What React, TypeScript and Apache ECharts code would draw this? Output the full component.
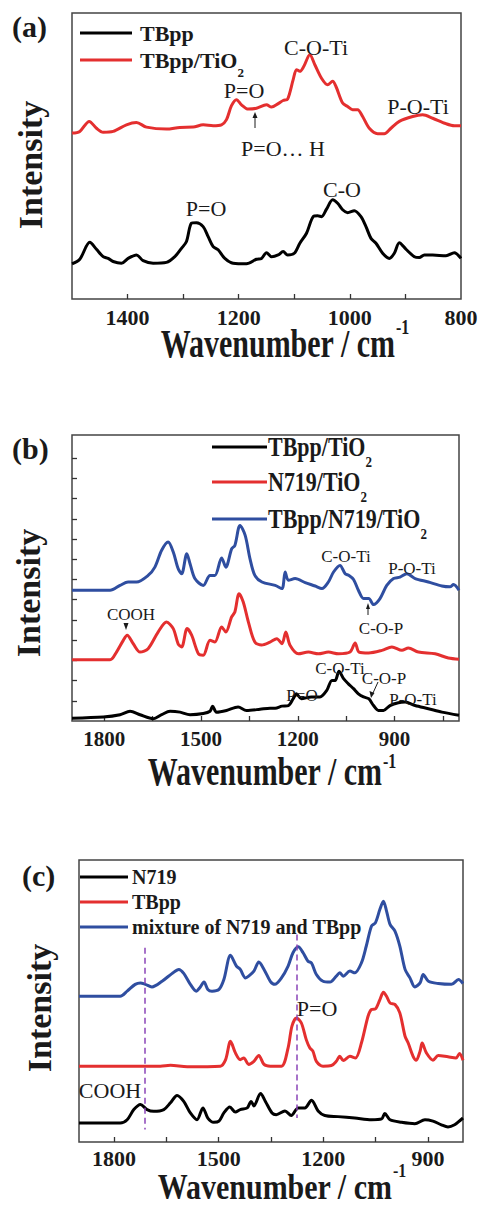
import React, { useEffect, useRef } from "react";
import * as echarts from "echarts";

const FONT = '"Liberation Serif", "Times New Roman", serif';
const RED = "#e42f2f";
const BLUE = "#2f4ea0";
const PURPLE = "#8b44b8";
const INK = "#1a1a1a";

// ---------- Panel (a): wavenumber (cm-1), intensity (a.u.) ----------
const aTBpp: [number, number][] = [
  [1500, 12.3], [1486, 13.9], [1468, 19.8], [1456, 17.4], [1444, 14.8], [1435, 14.2], [1426, 13.1], [1411, 12.5],
  [1399, 14.2], [1384, 15.4], [1372, 13.4], [1354, 12.5], [1330, 12.8], [1315, 14.8], [1303, 17.7], [1294, 20.1],
  [1285, 26.5], [1276, 26.7], [1264, 25.3], [1255, 21.8], [1246, 18.3], [1237, 17.2], [1225, 14.2], [1210, 12.5],
  [1186, 12.3], [1168, 13.9], [1159, 14.2], [1150, 16.2], [1141, 14.8], [1129, 15.4], [1120, 16.6], [1112, 15.4],
  [1100, 16.0], [1090, 19.5], [1078, 23.0], [1066, 28.8], [1058, 29.1], [1051, 28.8], [1042, 31.4], [1031, 34.7],
  [1022, 33.5], [1013, 31.2], [1004, 30.2], [992, 30.9], [980, 28.8], [971, 25.3], [962, 21.2], [953, 19.5],
  [941, 16.0], [929, 14.2], [920, 16.0], [911, 19.7], [899, 17.4], [884, 14.8], [875, 14.5], [866, 15.4],
  [851, 15.4], [827, 15.1], [812, 16.2], [800, 14.2],
];
const aTBppTiO2: [number, number][] = [
  [1500, 58.0], [1486, 58.6], [1469, 62.1], [1456, 59.7], [1444, 58.3], [1426, 58.6], [1402, 60.9], [1384, 61.7],
  [1366, 60.1], [1330, 59.4], [1306, 60.0], [1282, 60.1], [1264, 60.9], [1246, 60.6], [1231, 60.9], [1222, 62.7],
  [1213, 67.6], [1204, 69.7], [1195, 67.9], [1183, 66.4], [1168, 66.7], [1150, 67.9], [1141, 67.1], [1129, 68.3],
  [1120, 69.4], [1112, 69.9], [1102, 76.7], [1096, 80.2], [1090, 79.6], [1083, 81.3], [1072, 85.4], [1063, 81.9],
  [1051, 77.2], [1040, 74.9], [1031, 76.1], [1025, 74.3], [1013, 68.5], [1004, 67.3], [995, 66.2], [986, 66.2],
  [977, 63.8], [965, 59.7], [950, 57.8], [938, 57.8], [926, 59.7], [911, 62.1], [887, 63.8], [869, 64.4],
  [851, 63.2], [827, 61.3], [812, 60.6], [800, 60.6],
];
const aTicks = [900, 1000, 1100, 1200, 1300, 1400];
const aLabels = [800, 1000, 1200, 1400];

// ---------- Panel (b) ----------
const bTBppTiO2: [number, number][] = [
  [1900, 1.0], [1803, 1.4], [1751, 2.2], [1720, 3.4], [1689, 2.2], [1648, 0.8], [1622, 2.2], [1596, 3.4],
  [1565, 3.1], [1534, 2.2], [1493, 2.6], [1472, 3.4], [1464, 5.2], [1452, 3.1], [1421, 3.7], [1385, 4.9],
  [1359, 3.7], [1317, 4.1], [1286, 4.5], [1270, 4.5], [1249, 5.2], [1229, 5.4], [1214, 7.8], [1204, 9.5],
  [1189, 7.8], [1158, 8.4], [1131, 8.4], [1110, 10.7], [1094, 14.2], [1084, 14.2], [1072, 17.4], [1058, 14.8],
  [1043, 13.0], [1027, 11.3], [1012, 9.5], [996, 8.4], [980, 7.8], [965, 5.4], [950, 3.7], [934, 3.7],
  [914, 5.4], [888, 6.4], [867, 6.6], [836, 5.4], [795, 4.3], [753, 3.1], [700, 2.0],
];
const bN719TiO2: [number, number][] = [
  [1900, 21.4], [1782, 21.4], [1762, 24.1], [1741, 28.2], [1729, 30.0], [1710, 27.0], [1689, 24.1], [1664, 25.3],
  [1633, 31.1], [1607, 34.6], [1586, 32.3], [1571, 27.0], [1560, 25.9], [1543, 32.3], [1529, 30.0], [1508, 23.5],
  [1493, 23.0], [1472, 28.2], [1457, 27.6], [1436, 32.9], [1423, 31.1], [1405, 36.4], [1395, 38.1], [1382, 44.5],
  [1369, 41.6], [1353, 34.6], [1333, 27.6], [1312, 26.6], [1286, 27.6], [1265, 28.8], [1249, 27.0], [1237, 31.1],
  [1224, 26.5], [1198, 23.5], [1167, 24.1], [1136, 23.5], [1105, 24.1], [1074, 23.5], [1038, 24.1], [1022, 27.3],
  [1010, 24.1], [980, 23.8], [939, 24.7], [908, 25.9], [877, 24.7], [857, 25.5], [826, 24.1], [774, 23.5],
  [733, 22.0], [700, 21.6],
];
const bTBppN719TiO2: [number, number][] = [
  [1900, 45.7], [1782, 45.7], [1751, 47.4], [1726, 48.6], [1700, 48.6], [1664, 50.9], [1643, 53.8], [1622, 59.7],
  [1602, 62.6], [1586, 59.1], [1571, 53.3], [1560, 51.5], [1544, 58.5], [1534, 55.0], [1519, 49.8], [1493, 47.4],
  [1472, 50.9], [1457, 50.9], [1436, 57.0], [1423, 53.8], [1405, 60.2], [1395, 61.4], [1379, 68.4], [1363, 64.9],
  [1348, 56.7], [1333, 50.9], [1311, 48.6], [1270, 47.4], [1249, 46.3], [1239, 52.1], [1229, 49.2], [1208, 49.8],
  [1177, 48.4], [1146, 47.2], [1125, 46.3], [1105, 48.6], [1089, 52.1], [1069, 54.4], [1053, 51.5], [1041, 50.9],
  [1027, 49.5], [1012, 45.7], [996, 42.8], [980, 42.8], [965, 40.7], [945, 42.8], [924, 47.4], [903, 49.8],
  [883, 50.3], [862, 51.5], [836, 49.8], [795, 48.6], [753, 47.2], [728, 46.9], [717, 47.7], [700, 45.7],
];
const bTicks = [750, 900, 1050, 1200, 1350, 1500, 1650, 1800];
const bLabels = [900, 1200, 1500, 1800];
const bTicksY = [7.07, 14.14, 21.21, 28.28, 35.35, 42.42, 49.49, 56.56, 63.63, 70.7, 77.77, 84.84, 91.91];

// ---------- Panel (c) ----------
const cN719: [number, number][] = [
  [1900, 6.7], [1782, 6.7], [1762, 7.9], [1743, 11.5], [1724, 13.3], [1705, 11.5], [1686, 10.9], [1657, 11.5],
  [1638, 13.9], [1619, 16.5], [1600, 14.4], [1581, 10.3], [1562, 7.9], [1545, 12.1], [1531, 8.5], [1514, 7.0],
  [1499, 7.4], [1485, 10.3], [1468, 12.4], [1452, 10.6], [1438, 11.5], [1418, 12.1], [1407, 14.4], [1399, 12.8],
  [1380, 17.2], [1366, 14.4], [1347, 10.3], [1335, 9.7], [1310, 11.0], [1292, 9.4], [1272, 12.1], [1253, 12.1],
  [1234, 14.8], [1215, 11.0], [1196, 9.4], [1158, 9.0], [1110, 8.5], [1062, 7.9], [1033, 8.2], [1024, 10.1],
  [1009, 7.9], [976, 7.0], [938, 6.5], [909, 7.9], [886, 7.4], [862, 6.1], [843, 5.3], [824, 6.1],
  [806, 7.9], [800, 8.5],
];
const cTBpp: [number, number][] = [
  [1900, 26.9], [1667, 26.9], [1638, 27.2], [1590, 26.7], [1495, 26.9], [1480, 29.2], [1466, 35.7], [1452, 31.6],
  [1438, 29.2], [1428, 29.8], [1414, 27.5], [1399, 28.6], [1385, 30.7], [1370, 27.5], [1352, 26.9], [1320, 26.9],
  [1301, 33.4], [1290, 41.1], [1277, 44.0], [1263, 42.2], [1249, 36.3], [1239, 33.4], [1230, 32.2], [1220, 28.6],
  [1201, 26.9], [1177, 27.1], [1163, 28.6], [1153, 30.4], [1143, 28.9], [1124, 30.4], [1108, 29.8], [1091, 35.1],
  [1072, 44.6], [1062, 47.0], [1051, 47.2], [1038, 50.5], [1028, 53.1], [1019, 51.7], [1009, 49.3], [995, 48.8],
  [981, 45.8], [966, 37.5], [957, 35.1], [943, 30.4], [934, 29.0], [923, 32.2], [917, 35.1], [905, 31.6],
  [886, 29.0], [871, 30.7], [843, 30.2], [820, 29.8], [810, 31.4], [800, 29.0],
];
const cMixture: [number, number][] = [
  [1900, 51.7], [1782, 51.7], [1762, 53.5], [1739, 55.9], [1724, 56.4], [1710, 55.9], [1691, 55.0], [1662, 57.0],
  [1633, 59.8], [1614, 61.2], [1600, 59.8], [1581, 55.9], [1564, 53.5], [1554, 54.7], [1542, 56.7], [1531, 54.1],
  [1519, 53.5], [1499, 54.1], [1485, 57.6], [1466, 66.2], [1449, 62.4], [1438, 61.2], [1423, 58.2], [1414, 58.8],
  [1399, 60.6], [1385, 63.8], [1370, 61.2], [1352, 57.0], [1339, 55.9], [1320, 58.2], [1301, 62.4], [1287, 67.1],
  [1272, 69.2], [1258, 67.1], [1244, 64.1], [1234, 63.5], [1220, 59.4], [1201, 57.0], [1181, 56.7], [1163, 58.8],
  [1153, 60.0], [1143, 58.8], [1124, 60.6], [1110, 60.0], [1091, 63.5], [1077, 69.5], [1062, 76.6], [1051, 77.7],
  [1038, 82.5], [1028, 85.4], [1019, 81.9], [1009, 77.2], [995, 74.8], [981, 69.5], [966, 61.2], [952, 58.2],
  [938, 55.0], [923, 56.4], [914, 59.4], [899, 57.0], [871, 56.2], [833, 55.9], [813, 57.6], [800, 56.2],
];
const cTicks = [900, 1050, 1200, 1350, 1500, 1650, 1800];
const cLabels = [900, 1200, 1500, 1800];
const cDashX = [1712, 1277];
const cDashTop = [68.9, 73.6];
const cDashBottom = [4.4, 8.5];

let measureCtx: CanvasRenderingContext2D | null = null;
function measure(text: string, size: number, bold: boolean) {
  if (!measureCtx) measureCtx = document.createElement("canvas").getContext("2d");
  if (!measureCtx) return text.length * size * 0.5;
  measureCtx.font = `${bold ? "bold " : ""}${size}px ${FONT}`;
  return measureCtx.measureText(text).width;
}

function xAxisFor(gridIndex: number, min: number, max: number, ticks: number[], labels: number[], fontSize: number, margin: number) {
  return {
    type: "value",
    gridIndex,
    min,
    max,
    inverse: true,
    axisLine: { show: false },
    splitLine: { show: false },
    axisTick: { show: true, inside: true, length: 5, customValues: ticks, lineStyle: { color: "#333", width: 1.3 } },
    axisLabel: {
      show: true,
      customValues: labels,
      margin,
      fontFamily: FONT,
      fontWeight: "bold",
      fontSize,
      color: INK,
      formatter: (v: number) => String(v),
    },
  };
}

function yAxisFor(gridIndex: number, ticks: number[] | null) {
  return {
    type: "value",
    gridIndex,
    min: 0,
    max: 100,
    axisLine: { show: false },
    splitLine: { show: false },
    axisLabel: { show: false },
    axisTick: ticks
      ? { show: true, inside: true, length: 5, customValues: ticks, lineStyle: { color: "#333", width: 1.3 } }
      : { show: false },
  };
}

function lineSeries(name: string, data: [number, number][], color: string, idx: number, extra: any = {}) {
  return {
    name,
    type: "line",
    xAxisIndex: idx,
    yAxisIndex: idx,
    data,
    showSymbol: false,
    smooth: 0.3,
    lineStyle: { color, width: 3 },
    itemStyle: { color },
    silent: true,
    ...extra,
  };
}

function txt(text: string, x: number, y: number, size: number, opts: any = {}) {
  return {
    type: "text",
    x,
    y,
    rotation: opts.rotation || 0,
    scaleY: opts.scaleY || 1,
    z: 10,
    style: {
      text,
      fontFamily: FONT,
      fontSize: size,
      fontWeight: opts.bold ? "bold" : "normal",
      fill: opts.color || INK,
      align: opts.align || "center",
      verticalAlign: "middle",
    },
  };
}

function seg(x1: number, y1: number, x2: number, y2: number, color: string, w: number) {
  return { type: "line", z: 10, shape: { x1, y1, x2, y2 }, style: { stroke: color, lineWidth: w } };
}

function tri(points: number[][], color: string) {
  return { type: "polygon", z: 10, shape: { points }, style: { fill: color } };
}

function xTitle(xRight: number, y: number, supY: number, scaleY: number) {
  return [
    txt("Wavenumber / cm", xRight, y, 30, { bold: true, align: "right", scaleY }),
    txt("-1", xRight + 1, supY, 16, { bold: true, align: "left", scaleY }),
  ];
}

function legendEntry(x1: number, x2: number, y: number, color: string, tx: number, text: string, sub: string | null,
  size: number, scaleY: number) {
  const out: any[] = [seg(x1, y, x2, y, color, 3), txt(text, tx, y, size, { bold: true, align: "left", scaleY })];
  if (sub) {
    const w = measure(text, size, true);
    out.push(txt(sub, tx + w, y + size * 0.55 * scaleY, Math.round(size * 0.6), { bold: true, align: "left", scaleY }));
  }
  return out;
}

export default function App() {
  const ref = useRef<HTMLDivElement>(null);
  useEffect(() => {
    document.body.style.margin = "0";
    if (!ref.current) return;
    const chart = echarts.init(ref.current, null, { renderer: "svg" });
    const gridStyle = { show: true, borderColor: "#444", borderWidth: 1.5, backgroundColor: "transparent" };
    const graphic: any[] = [
      // panel labels
      txt("(a)", 12, 26, 30, { bold: true, align: "left" }),
      txt("(b)", 12, 448, 30, { bold: true, align: "left" }),
      txt("(c)", 22, 875, 30, { bold: true, align: "left" }),
      // y titles
      txt("Intensity", 30, 165, 34, { bold: true, rotation: Math.PI / 2 }),
      txt("Intensity", 28, 593, 34, { bold: true, rotation: Math.PI / 2 }),
      txt("Intensity", 39, 1008, 34, { bold: true, rotation: Math.PI / 2 }),
      // x titles
      ...xTitle(395, 344, 327, 1.3),
      ...xTitle(382, 772, 761, 1.3),
      ...xTitle(392, 1187, 1170, 1.2),
      // legend (a)
      ...legendEntry(80, 132, 33, "#000", 140, "TBpp", null, 22, 1),
      ...legendEntry(80, 132, 60, RED, 140, "TBpp/TiO", "2", 22, 1),
      // annotations (a)
      txt("C-O-Ti", 316, 47, 22),
      txt("P=O", 244, 90, 22),
      seg(255, 116, 255, 128, INK, 1),
      tri([[252.5, 118], [257.5, 118], [255, 112]], INK),
      txt("P=O… H", 283, 148, 22),
      txt("P-O-Ti", 418, 106, 22),
      txt("P=O", 206, 208, 22),
      txt("C-O", 342, 189, 22),
      // legend (b)
      ...legendEntry(212, 267, 447, "#000", 268, "TBpp/TiO", "2", 22, 1.2),
      ...legendEntry(212, 267, 482, RED, 268, "N719/TiO", "2", 22, 1.2),
      ...legendEntry(212, 267, 519, BLUE, 268, "TBpp/N719/TiO", "2", 22, 1.2),
      // annotations (b)
      txt("COOH", 131, 614, 17),
      tri([[123.5, 623], [128.5, 623], [126, 630]], INK),
      txt("C-O-Ti", 346, 556, 17),
      txt("P-O-Ti", 412, 568, 17),
      seg(368, 607, 368, 615, INK, 1),
      tri([[366, 609], [370, 609], [368, 603]], INK),
      txt("C-O-P", 381, 628, 17),
      txt("C-O-Ti", 340, 668, 17),
      txt("C-O-P", 384, 678, 17),
      seg(378, 682, 373, 693, INK, 1),
      tri([[369.5, 691], [374.5, 693], [371, 698]], INK),
      txt("P=O", 302, 695, 17),
      txt("P-O-Ti", 413, 699, 17),
      // legend (c)
      ...legendEntry(80, 128, 877, "#000", 132, "N719", null, 20, 1),
      ...legendEntry(80, 128, 902, RED, 132, "TBpp", null, 20, 1),
      ...legendEntry(80, 128, 927, BLUE, 132, "mixture of N719 and TBpp", null, 20, 1),
      // annotations (c)
      txt("COOH", 110, 1090, 22),
      txt("P=O", 317, 1008, 22),
    ];

    const dashData = cDashX.map((x, i) => [
      { coord: [x, cDashTop[i]] },
      { coord: [x, cDashBottom[i]] },
    ]);

    chart.setOption({
      animation: false,
      grid: [
        { left: 72, top: 13, width: 389, height: 286, ...gridStyle },
        { left: 72, top: 435, width: 387, height: 286, ...gridStyle },
        { left: 79, top: 860, width: 384, height: 282, ...gridStyle },
      ],
      xAxis: [
        xAxisFor(0, 800, 1500, aTicks, aLabels, 22, 7),
        xAxisFor(1, 700, 1900, bTicks, bLabels, 21, 7),
        xAxisFor(2, 800, 1900, cTicks, cLabels, 22, 5),
      ],
      yAxis: [yAxisFor(0, null), yAxisFor(1, bTicksY), yAxisFor(2, null)],
      series: [
        lineSeries("TBpp", aTBpp, "#000", 0),
        lineSeries("TBpp/TiO2", aTBppTiO2, RED, 0),
        lineSeries("TBpp/TiO2 (b)", bTBppTiO2, "#000", 1),
        lineSeries("N719/TiO2", bN719TiO2, RED, 1),
        lineSeries("TBpp/N719/TiO2", bTBppN719TiO2, BLUE, 1),
        lineSeries("N719", cN719, "#000", 2),
        lineSeries("TBpp (c)", cTBpp, RED, 2),
        lineSeries("mixture of N719 and TBpp", cMixture, BLUE, 2, {
          markLine: {
            silent: true,
            symbol: "none",
            label: { show: false },
            lineStyle: { color: PURPLE, width: 1.5, type: [6, 4] },
            data: dashData,
          },
        }),
      ],
      graphic,
    });
    return () => chart.dispose();
  }, []);
  return <div ref={ref} style={{ width: 481, height: 1207, position: "absolute", left: 0, top: 0 }} />;
}
